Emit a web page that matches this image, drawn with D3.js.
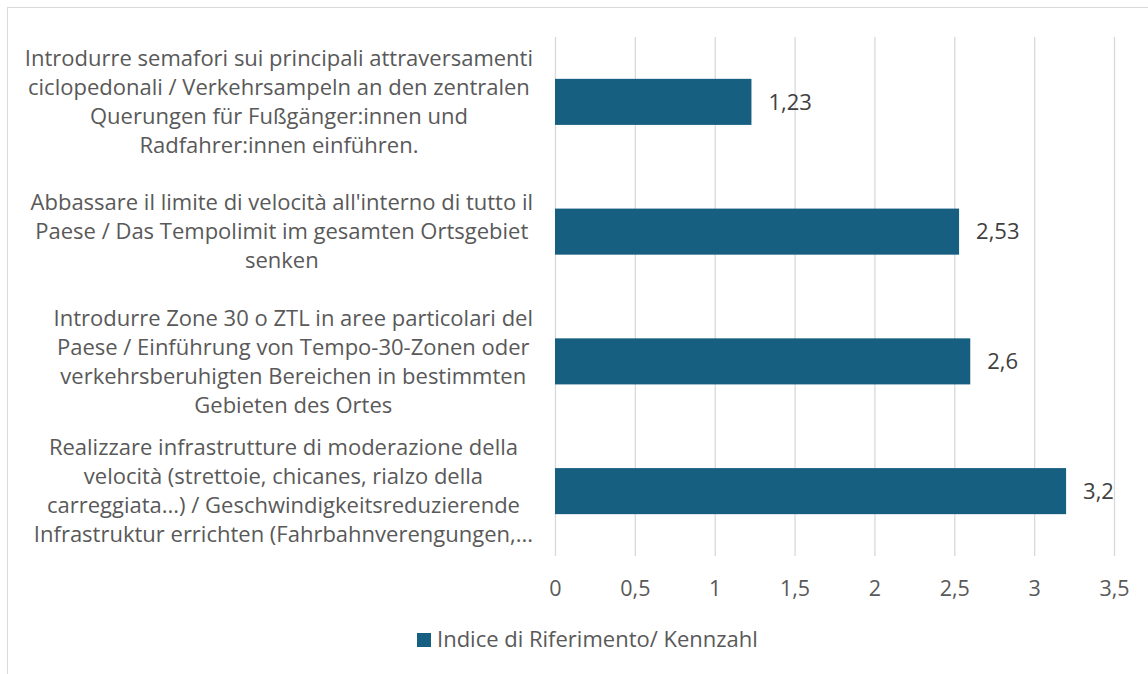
<!DOCTYPE html>
<html>
<head>
<meta charset="utf-8">
<script src="https://cdn.jsdelivr.net/npm/d3@7"></script>
<style>
  body { margin: 0; background: #fff; }
  svg { display: block; font-family: "Open Sans", sans-serif; }
</style>
</head>
<body>
<div class="chart"></div>
<script>
// category labels, already broken into lines like in the original
const categories = [
    ['Introdurre semafori sui principali attraversamenti',
     'ciclopedonali / Verkehrsampeln an den zentralen',
     'Querungen für Fußgänger:innen und',
     'Radfahrer:innen einführen.'],
    ["Abbassare il limite di velocità all'interno di tutto il",
     'Paese / Das Tempolimit im gesamten Ortsgebiet',
     'senken'],
    ['Introdurre Zone 30 o ZTL in aree particolari del',
     'Paese / Einführung von Tempo-30-Zonen oder',
     'verkehrsberuhigten Bereichen in bestimmten',
     'Gebieten des Ortes'],
    ['Realizzare infrastrutture di moderazione della',
     'velocità (strettoie, chicanes, rialzo della',
     'carreggiata...) / Geschwindigkeitsreduzierende',
     'Infrastruktur errichten (Fahrbahnverengungen,...']
];
const values = [1.23, 2.53, 2.6, 3.2];
const xTicks = [0, 0.5, 1, 1.5, 2, 2.5, 3, 3.5];
const seriesName = 'Indice di Riferimento/ Kennzahl';

const width = 1148, height = 674;
const margin = {top: 37, right: 34, bottom: 118, left: 555};
const barColor = '#165f80';

// comma as decimal separator
const it = d3.formatLocale({decimal: ',', thousands: '.', grouping: [3], currency: ['', '€']});
const fmt = it.format('~g');

const svg = d3.select('.chart').append('svg')
    .attr('width', width).attr('height', height);

// chart area border (runs off the right/bottom edge)
svg.append('rect')
    .attr('x', 7.5).attr('y', 7.5)
    .attr('width', width + 10).attr('height', height + 10)
    .attr('fill', 'none').attr('stroke', '#d9d9d9');

const x = d3.scaleLinear().domain([0, 3.5]).range([margin.left, width - margin.right]);
const y = d3.scaleBand().domain(d3.range(categories.length))
    .range([margin.top, height - margin.bottom])
    .paddingInner(0.645).paddingOuter(0.3225);

// vertical gridlines via axis
const xAxis = d3.axisBottom(x)
    .tickValues(xTicks)
    .tickFormat(fmt)
    .tickSizeInner(-(height - margin.bottom - margin.top))
    .tickSizeOuter(0)
    .tickPadding(24.5);
const gx = svg.append('g')
    .attr('transform', `translate(0,${height - margin.bottom})`)
    .call(xAxis);
gx.select('.domain').remove();
gx.selectAll('.tick line').attr('stroke', '#d9d9d9').attr('stroke-width', 1.3);
gx.selectAll('.tick text')
    .attr('fill', '#595959')
    .style('font-size', '21.5px')
    .style('font-family', '"Open Sans", sans-serif');

// bars
svg.selectAll('.bar')
    .data(values)
    .join('rect')
    .attr('class', 'bar')
    .attr('x', x(0))
    .attr('y', (d, i) => y(i))
    .attr('width', d => x(d) - x(0))
    .attr('height', y.bandwidth())
    .attr('fill', barColor);

// value labels
svg.selectAll('.val')
    .data(values)
    .join('text')
    .attr('class', 'val')
    .attr('x', d => x(d) + 17)
    .attr('y', (d, i) => y(i) + y.bandwidth() / 2)
    .attr('dy', '0.35em')
    .attr('fill', '#404040')
    .style('font-size', '22px')
    .text(d => fmt(d));

// category labels: lines centred, block right-aligned near axis
const lineH = 29;
const labelRight = 533;
categories.forEach((lines, i) => {
    const cy = y(i) + y.bandwidth() / 2;
    const g = svg.append('g').attr('class', 'cat');
    const t = g.append('text')
        .attr('fill', '#595959')
        .style('font-size', '22px')
        .attr('text-anchor', 'middle');
    lines.forEach((l, j) => {
        t.append('tspan')
            .attr('x', 0)
            .attr('y', cy + (j - (lines.length - 1) / 2) * lineH)
            .attr('dy', '0.35em')
            .text(l);
    });
    const maxW = d3.max(t.selectAll('tspan').nodes(), n => n.getComputedTextLength());
    t.attr('transform', `translate(${labelRight - maxW / 2},0)`);
});

// legend
const legend = svg.append('g').attr('class', 'legend');
legend.append('rect')
    .attr('x', 417).attr('y', 633)
    .attr('width', 14).attr('height', 14)
    .attr('fill', barColor);
legend.append('text')
    .attr('x', 437)
    .attr('y', 639).attr('dy', '0.35em')
    .attr('fill', '#595959')
    .style('font-size', '22px')
    .text(seriesName);
</script>
</body>
</html>
